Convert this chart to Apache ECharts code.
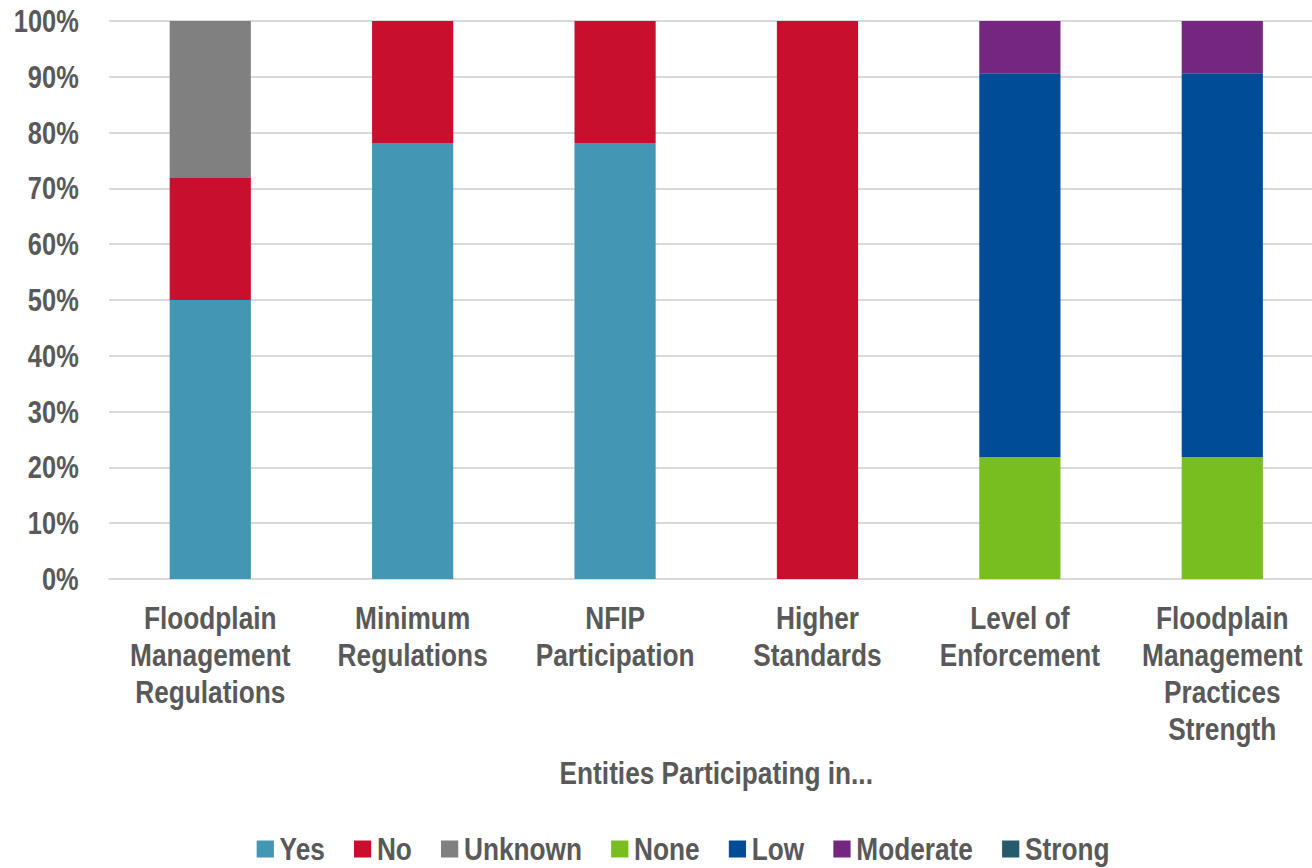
<!DOCTYPE html>
<html><head><meta charset="utf-8">
<script src="https://cdn.jsdelivr.net/npm/echarts@6/dist/echarts.min.js"></script>
<style>html,body{margin:0;padding:0;background:#fff;overflow:hidden;width:1312px;height:868px}
#c{width:1640px;height:868px;transform:scaleX(0.82);transform-origin:0 0}</style>
</head><body><div id="c"></div>
<script>
const categories = ['Floodplain\nManagement\nRegulations','Minimum\nRegulations','NFIP\nParticipation','Higher\nStandards','Level of\nEnforcement','Floodplain\nManagement\nPractices\nStrength'];
const yesVals = [50, 78.125, 78.125, 0, 0, 0];
const noVals = [21.875, 21.875, 21.875, 100, 0, 0];
const unknownVals = [28.125, 0, 0, 0, 0, 0];
const noneVals = [0, 0, 0, 0, 21.875, 21.875];
const lowVals = [0, 0, 0, 0, 68.75, 68.75];
const moderateVals = [0, 0, 0, 0, 9.375, 9.375];
const strongVals = [0, 0, 0, 0, 0, 0];
const seriesNames = ['Yes','No','Unknown','None','Low','Moderate','Strong'];
const seriesColors = ['#4397B5','#C8102E','#808080','#78BE20','#004C97','#75267F','#265B6E'];
const seriesData = [yesVals, noVals, unknownVals, noneVals, lowVals, moderateVals, strongVals];
const xTitle = 'Entities Participating in...';

const FONT = "'Liberation Sans',Arial,sans-serif";
const TXT = '#595959';
const chart = echarts.init(document.getElementById('c'), null, {renderer: 'svg'});
chart.setOption({
  animation: false,
  textStyle: {fontFamily: FONT},
  grid: {left: 133, top: 21, width: 1481, height: 558, containLabel: false},
  legend: {
    data: seriesNames, top: 828, left: 308, itemWidth: 21, itemHeight: 17, itemGap: 35.5,
    icon: 'rect',
    textStyle: {fontFamily: FONT, fontWeight: 'bold', fontSize: 32, color: TXT, padding: [0,0,0,2]}
  },
  xAxis: {
    type: 'category', data: categories,
    axisTick: {show: false},
    axisLine: {lineStyle: {color: '#D9D9D9', width: 2}},
    axisLabel: {fontFamily: FONT, fontWeight: 'bold', fontSize: 32, color: TXT, lineHeight: 37, margin: 21, interval: 0},
    name: xTitle, nameLocation: 'middle', nameGap: 178,
    nameTextStyle: {fontFamily: FONT, fontWeight: 'bold', fontSize: 32, color: TXT}
  },
  yAxis: {
    type: 'value', min: 0, max: 100, interval: 10,
    axisLine: {show: false}, axisTick: {show: false},
    splitLine: {lineStyle: {color: '#D9D9D9', width: 2}},
    axisLabel: {formatter: '{value}%', fontFamily: FONT, fontWeight: 'bold', fontSize: 31, color: TXT, margin: 37}
  },
  series: seriesNames.map((n, i) => ({
    name: n, type: 'bar', stack: 'total', barWidth: 99,
    itemStyle: {color: seriesColors[i]},
    data: seriesData[i]
  }))
});
</script></body></html>
